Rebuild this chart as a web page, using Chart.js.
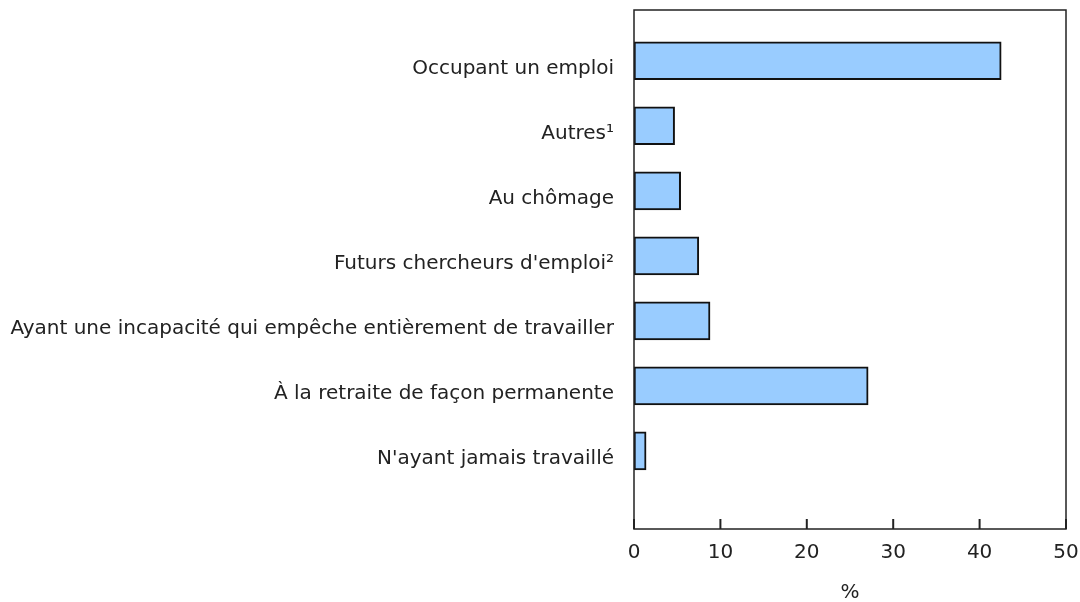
<!DOCTYPE html>
<html>
<head>
<meta charset="utf-8">
<script src="https://cdn.jsdelivr.net/npm/chart.js@4.4.1/dist/chart.umd.min.js"></script>
<style>
  html, body { margin: 0; padding: 0; background: #fff; }
  #wrap { width: 1080px; height: 602px; position: relative; }
</style>
</head>
<body>
<div id="wrap"><canvas id="chart"></canvas></div>
<script>
const categories = [
  'Occupant un emploi',
  'Autres¹',
  'Au chômage',
  "Futurs chercheurs d'emploi²",
  'Ayant une incapacité qui empêche entièrement de travailler',
  'À la retraite de façon permanente',
  "N'ayant jamais travaillé",
];
const values = [42.5, 4.7, 5.4, 7.5, 8.8, 27.1, 1.4];
const xTicks = [0, 10, 20, 30, 40, 50];
const xTitle = '%';

const FONT = '"DejaVu Sans", Verdana, sans-serif';

// frame round the plot area plus inward tick marks on the x axis
const framePlugin = {
  id: 'frame',
  afterDraw(chart) {
    const { ctx, chartArea: a, scales } = chart;
    ctx.save();
    ctx.strokeStyle = '#222';
    ctx.lineWidth = 1.5;
    ctx.strokeRect(a.left, a.top, a.right - a.left, a.bottom - a.top);
    ctx.lineWidth = 2;
    for (const t of xTicks) {
      const x = scales.x.getPixelForValue(t);
      ctx.beginPath();
      ctx.moveTo(x, a.bottom);
      ctx.lineTo(x, a.bottom - 10);
      ctx.stroke();
    }
    ctx.restore();
  },
};

new Chart(document.getElementById('chart'), {
  type: 'bar',
  data: {
    datasets: [{
      data: values.map((v, i) => ({ x: v, y: i })),
      backgroundColor: '#99ccff',
      borderColor: '#111',
      borderWidth: 2,
      borderSkipped: false,
      barThickness: 38,
    }],
  },
  options: {
    indexAxis: 'y',
    responsive: true,
    maintainAspectRatio: false,
    animation: false,
    layout: { padding: { top: 10, right: 0, left: 0, bottom: 0 } },
    plugins: { legend: { display: false }, tooltip: { enabled: false } },
    scales: {
      x: {
        type: 'linear',
        min: 0,
        max: 50,
        offset: false,
        grid: { display: false, drawTicks: false },
        border: { display: false },
        afterBuildTicks: (s) => { s.ticks = xTicks.map((v) => ({ value: v })); },
        ticks: { color: '#222', font: { family: FONT, size: 20 }, padding: 12 },
        title: { display: true, text: xTitle, color: '#222', font: { family: FONT, size: 20 }, padding: { top: 4, bottom: -3 } },
        afterFit: (s) => { s.height = 73; s.paddingLeft = 0; s.paddingRight = 14; },
      },
      y: {
        type: 'linear',
        reverse: true,
        min: -0.78,
        max: 7.2,
        offset: false,
        grid: { display: false, drawTicks: false },
        border: { display: false },
        afterBuildTicks: (s) => { s.ticks = categories.map((_, i) => ({ value: i })); },
        ticks: {
          color: '#222',
          font: { family: FONT, size: 20 },
          padding: 20,
          labelOffset: 8,
          autoSkip: false,
          callback: (v) => categories[v] ?? '',
        },
        afterFit: (s) => { s.width = 634; s.paddingTop = 0; s.paddingBottom = 0; },
      },
    },
  },
  plugins: [framePlugin],
});
</script>
</body>
</html>
